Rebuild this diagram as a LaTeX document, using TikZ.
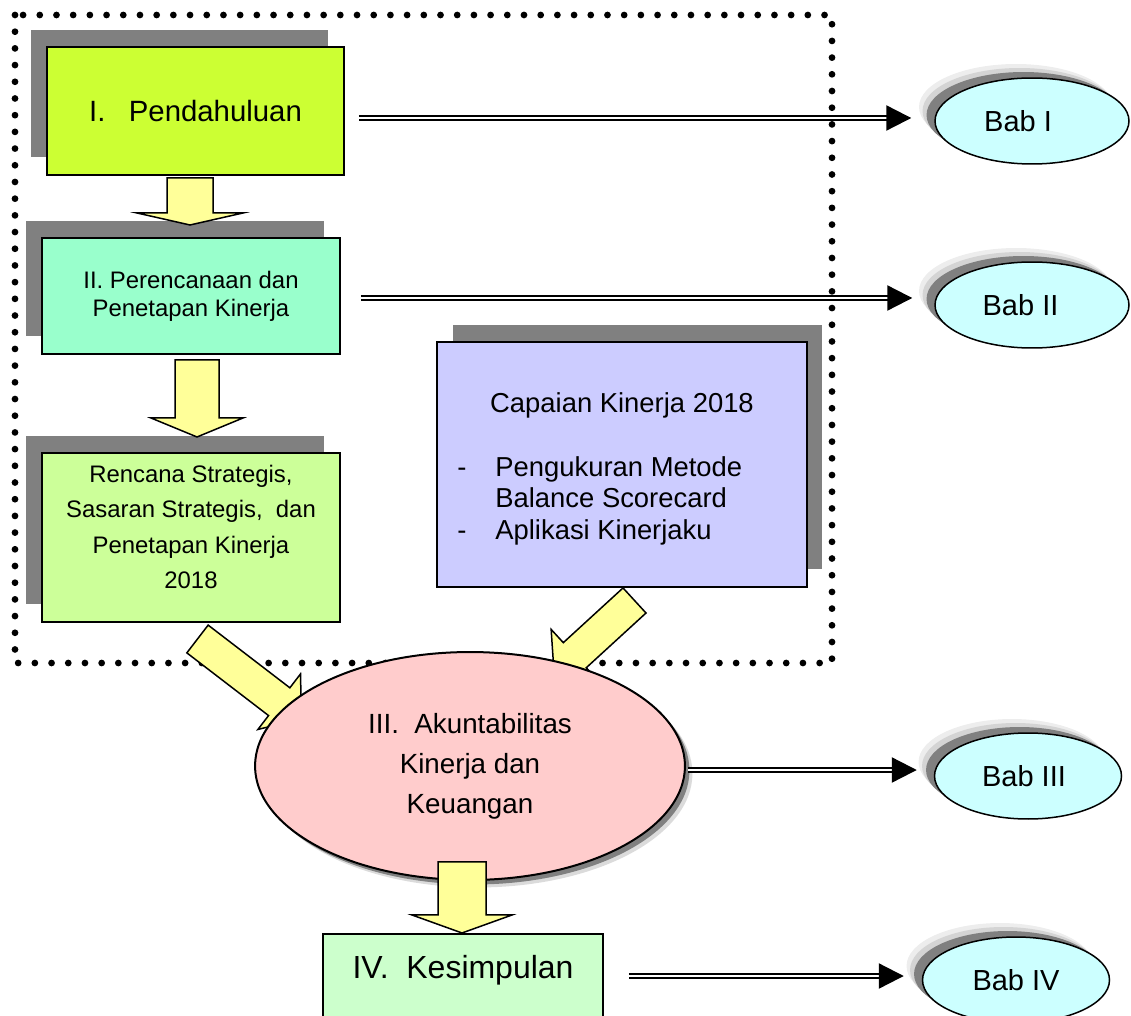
\documentclass[tikz,border=0pt]{standalone}
\usepackage{fontspec}
\setmainfont{Liberation Sans}
\usetikzlibrary{shapes.geometric,shadows,arrows.meta,calc}

\definecolor{limeA}{HTML}{CCFF33}
\definecolor{mintB}{HTML}{99FFCC}
\definecolor{greenC}{HTML}{CCFF99}
\definecolor{greenD}{HTML}{CCFFCC}
\definecolor{lavE}{HTML}{CCCCFF}
\definecolor{pinkF}{HTML}{FFCCCC}
\definecolor{cyanG}{HTML}{CCFFFF}
\definecolor{yellowH}{HTML}{FFFF99}
\definecolor{shadowgray}{HTML}{808080}

% start, angle, length, shaft half width, head half width, head length
\newcommand{\fatarrow}[6]{%
  \draw[yarrow, shift={#1}, rotate=#2] (0,-#4) -- (#3-#6,-#4) -- (#3-#6,-#5) -- (#3,0)
    -- (#3-#6,#5) -- (#3-#6,#4) -- (0,#4) -- cycle;}

\begin{document}
\begin{tikzpicture}[x=0.02cm,y=-0.02cm,
    box/.style={draw, line width=0.04cm, inner sep=0pt, align=center,
      font=\fontsize{13.6}{16}\selectfont},
    boxshadow/.style={drop shadow={shadow xshift=-0.32cm, shadow yshift=0.35cm,
      fill=shadowgray, opacity=1}},
    capshadow/.style={drop shadow={shadow xshift=0.31cm, shadow yshift=0.35cm,
      fill=shadowgray, opacity=1}},
    ellshadow/.style={drop shadow={shadow xshift=0.15cm, shadow yshift=-0.15cm,
      fill=black!20, opacity=0.7},
      drop shadow={shadow xshift=0.09cm, shadow yshift=-0.09cm, fill=shadowgray, opacity=1}},
    babshadow/.style={drop shadow={shadow xshift=-0.32cm, shadow yshift=0.28cm,
      fill=black!7, opacity=1},
      drop shadow={shadow xshift=-0.25cm, shadow yshift=0.2cm, fill=black!17, opacity=1},
      drop shadow={shadow xshift=-0.17cm, shadow yshift=0.12cm, fill=shadowgray, opacity=1}},
    bab/.style={ellipse, draw, line width=0.03cm, fill=cyanG, inner sep=0pt,
      minimum width=3.88cm, minimum height=1.72cm, font=\fontsize{16.5}{19}\selectfont, babshadow},
    yarrow/.style={draw, line width=0.03cm, fill=yellowH, line join=miter},
    dblarrow/.style={double, double distance=0.04cm, line width=0.045cm,
      -{Triangle[length=0.5cm,width=0.5cm]}},
    dotline/.style={line width=0.135cm, line cap=round, dash pattern=on 0pt off 0.334cm}]

  \clip (0,0) rectangle (1131,1016);

  \draw[dotline] (15,15) rectangle (832,663);

  \node[box, fill=limeA, minimum width=5.94cm, minimum height=2.56cm, boxshadow,
    font=\fontsize{16.7}{19}\selectfont] (pendahuluan) at (195.5,111) {I.\hspace{0.47cm}Pendahuluan};
  \node[box, fill=mintB, minimum width=5.96cm, minimum height=2.32cm, boxshadow]
    (perencanaan) at (191,296) {II. Perencanaan dan\\Penetapan Kinerja};
  \node[box, fill=greenC, minimum width=5.96cm, minimum height=3.38cm, boxshadow,
    font=\fontsize{13.6}{20}\selectfont] (renstra) at (191,537.5)
    {\raisebox{0.18cm}[\height][\depth]{\begin{tabular}{@{}c@{}}Rencana Strategis,\\
      Sasaran Strategis,\ \ dan\\Penetapan Kinerja\\2018\end{tabular}}};

  \node[box, fill=lavE, minimum width=7.4cm, minimum height=4.9cm, capshadow] (capaian) at (622,464.5) {};
  \node[anchor=base, inner sep=0pt, font=\fontsize{15.6}{18}\selectfont] (captitle)
    at ($(capaian.north)+(0,71)$) {Capaian Kinerja 2018};
  \node[anchor=base west, inner sep=0pt, font=\fontsize{15.6}{18}\selectfont] (caplist)
    at ($(capaian.west)+(21,11.5)$)
    {\begin{tabular}[t]{@{}p{0.76cm}@{}l@{}}-&Pengukuran Metode\\&Balance Scorecard\\-&Aplikasi Kinerjaku\end{tabular}};

  \fatarrow{($(pendahuluan.south)+(-5.5,2)$)}{-90}{47}{23}{53}{12}
  \fatarrow{($(perencanaan.south)+(6,5)$)}{-90}{77}{22}{46}{19}
  \fatarrow{($(renstra.south)+(6.5,16)$)}{-37.5}{131}{17.5}{35}{28}
  \fatarrow{($(capaian.south)+(12.5,12.5)$)}{222.5}{109}{17}{35}{28}

  \node[ellipse, draw, line width=0.04cm, fill=pinkF, minimum width=8.6cm, minimum height=4.56cm,
    inner sep=0pt, align=center, font=\fontsize{15.8}{22.8}\selectfont, ellshadow]
    (akuntabilitas) at (470,766) {III.\ \ Akuntabilitas\\Kinerja dan\\Keuangan};

  \node[box, fill=greenD, minimum width=5.6cm, anchor=north, text height=0.88cm, text depth=1.6cm,
    font=\fontsize{18.2}{21}\selectfont] (kesimpulan) at (463,933) {IV.\ \ Kesimpulan};

  \fatarrow{($(akuntabilitas.south)+(-8,-19)$)}{-90}{71}{24}{50}{18}

  \node[bab] (babI) at (1032,121) {Bab I\kern0.56cm};
  \node[bab] (babII) at (1032,305) {Bab II\kern0.46cm};
  \node[bab, minimum width=3.74cm] (babIII) at (1028,776) {Bab III\kern0.16cm};
  \node[bab, minimum width=3.74cm] (babIV) at (1016,980) {Bab IV};

  \draw[dblarrow] ($(pendahuluan.east |- babI.west)+(14,-3)$) -- ($(babI.west)+(-23,-3)$);
  \draw[dblarrow] ($(perencanaan.east |- babII.west)+(20,-7)$) -- ($(babII.west)+(-22,-7)$);
  \draw[dblarrow] ($(akuntabilitas.east |- babIII.west)+(2,-6)$) -- ($(babIII.west)+(-17,-6)$);
  \draw[dblarrow] ($(kesimpulan.east |- babIV.west)+(25,-4)$) -- ($(babIV.west)+(-18,-4)$);

\end{tikzpicture}
\end{document}
